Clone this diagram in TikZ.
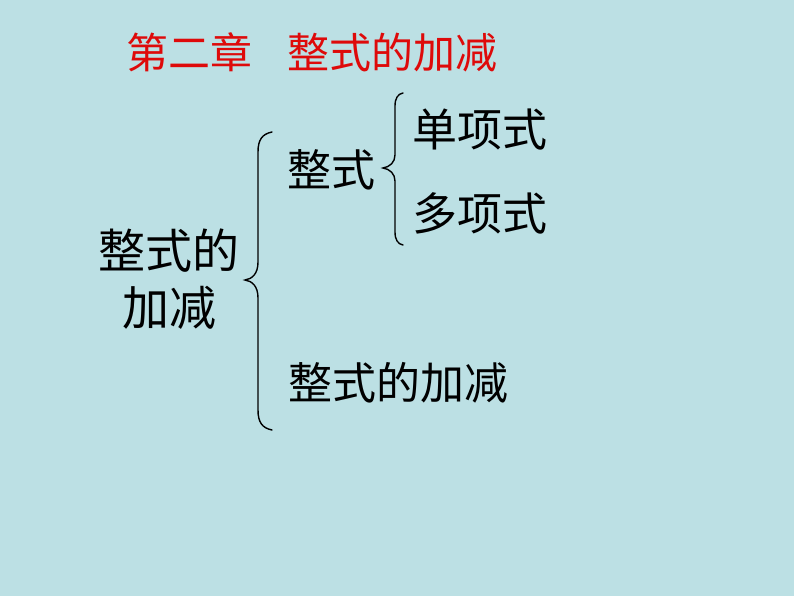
\documentclass[tikz,border=0pt]{standalone}
\usepackage{fontspec}
\newfontfamily\cjk{Noto Sans CJK SC}
\definecolor{bg}{RGB}{188,224,228}
\definecolor{titlered}{RGB}{222,10,10}
\begin{document}
\begin{tikzpicture}[x=1pt,y=-1pt,
  lbl/.style={font=\cjk\fontsize{44}{57}\selectfont, text=black, inner sep=0pt, align=center},
  ttl/.style={font=\cjk\fontsize{42}{46}\selectfont, text=titlered, inner sep=0pt},
  brace/.style={draw=black, line width=1.4pt, line cap=round}]
\fill[bg] (0,0) rectangle (794,596);
\useasboundingbox (0,0) rectangle (794,596);
\node[ttl] (title) at (312,52) {第二章\hspace{0.85em}整式的加减};
\node[lbl, font=\cjk\fontsize{47}{57}\selectfont] (root) at (169,279) {整式的\\加减};
\node[lbl] (zs) at (331,170) {整式};
\node[lbl, font=\cjk\fontsize{45}{57}\selectfont] (dx) at (480,130) {单项式};
\node[lbl, font=\cjk\fontsize{45}{57}\selectfont] (duox) at (480,213) {多项式};
\node[lbl] (jj) at (398,383) {整式的加减};
% big brace
\coordinate (bt) at (272,132);
\coordinate (bb) at (272,430);
\coordinate (btip) at (245,280);
\draw[brace] (bt) .. controls (262,134) and (258,140) .. (258,152)
  -- (258,262) .. controls (258,274) and (252,279) .. (btip)
  .. controls (252,281) and (258,286) .. (258,298)
  -- (258,410) .. controls (258,422) and (262,428) .. (bb);
% small brace
\coordinate (st) at (403,93);
\coordinate (sb) at (403,245);
\coordinate (stip) at (383,168);
\draw[brace] (st) .. controls (398,94) and (395,98) .. (395,106)
  -- (395,155) .. controls (395,162) and (390,167) .. (stip)
  .. controls (390,169) and (395,174) .. (395,181)
  -- (395,232) .. controls (395,240) and (398,244) .. (sb);
\end{tikzpicture}
\end{document}
